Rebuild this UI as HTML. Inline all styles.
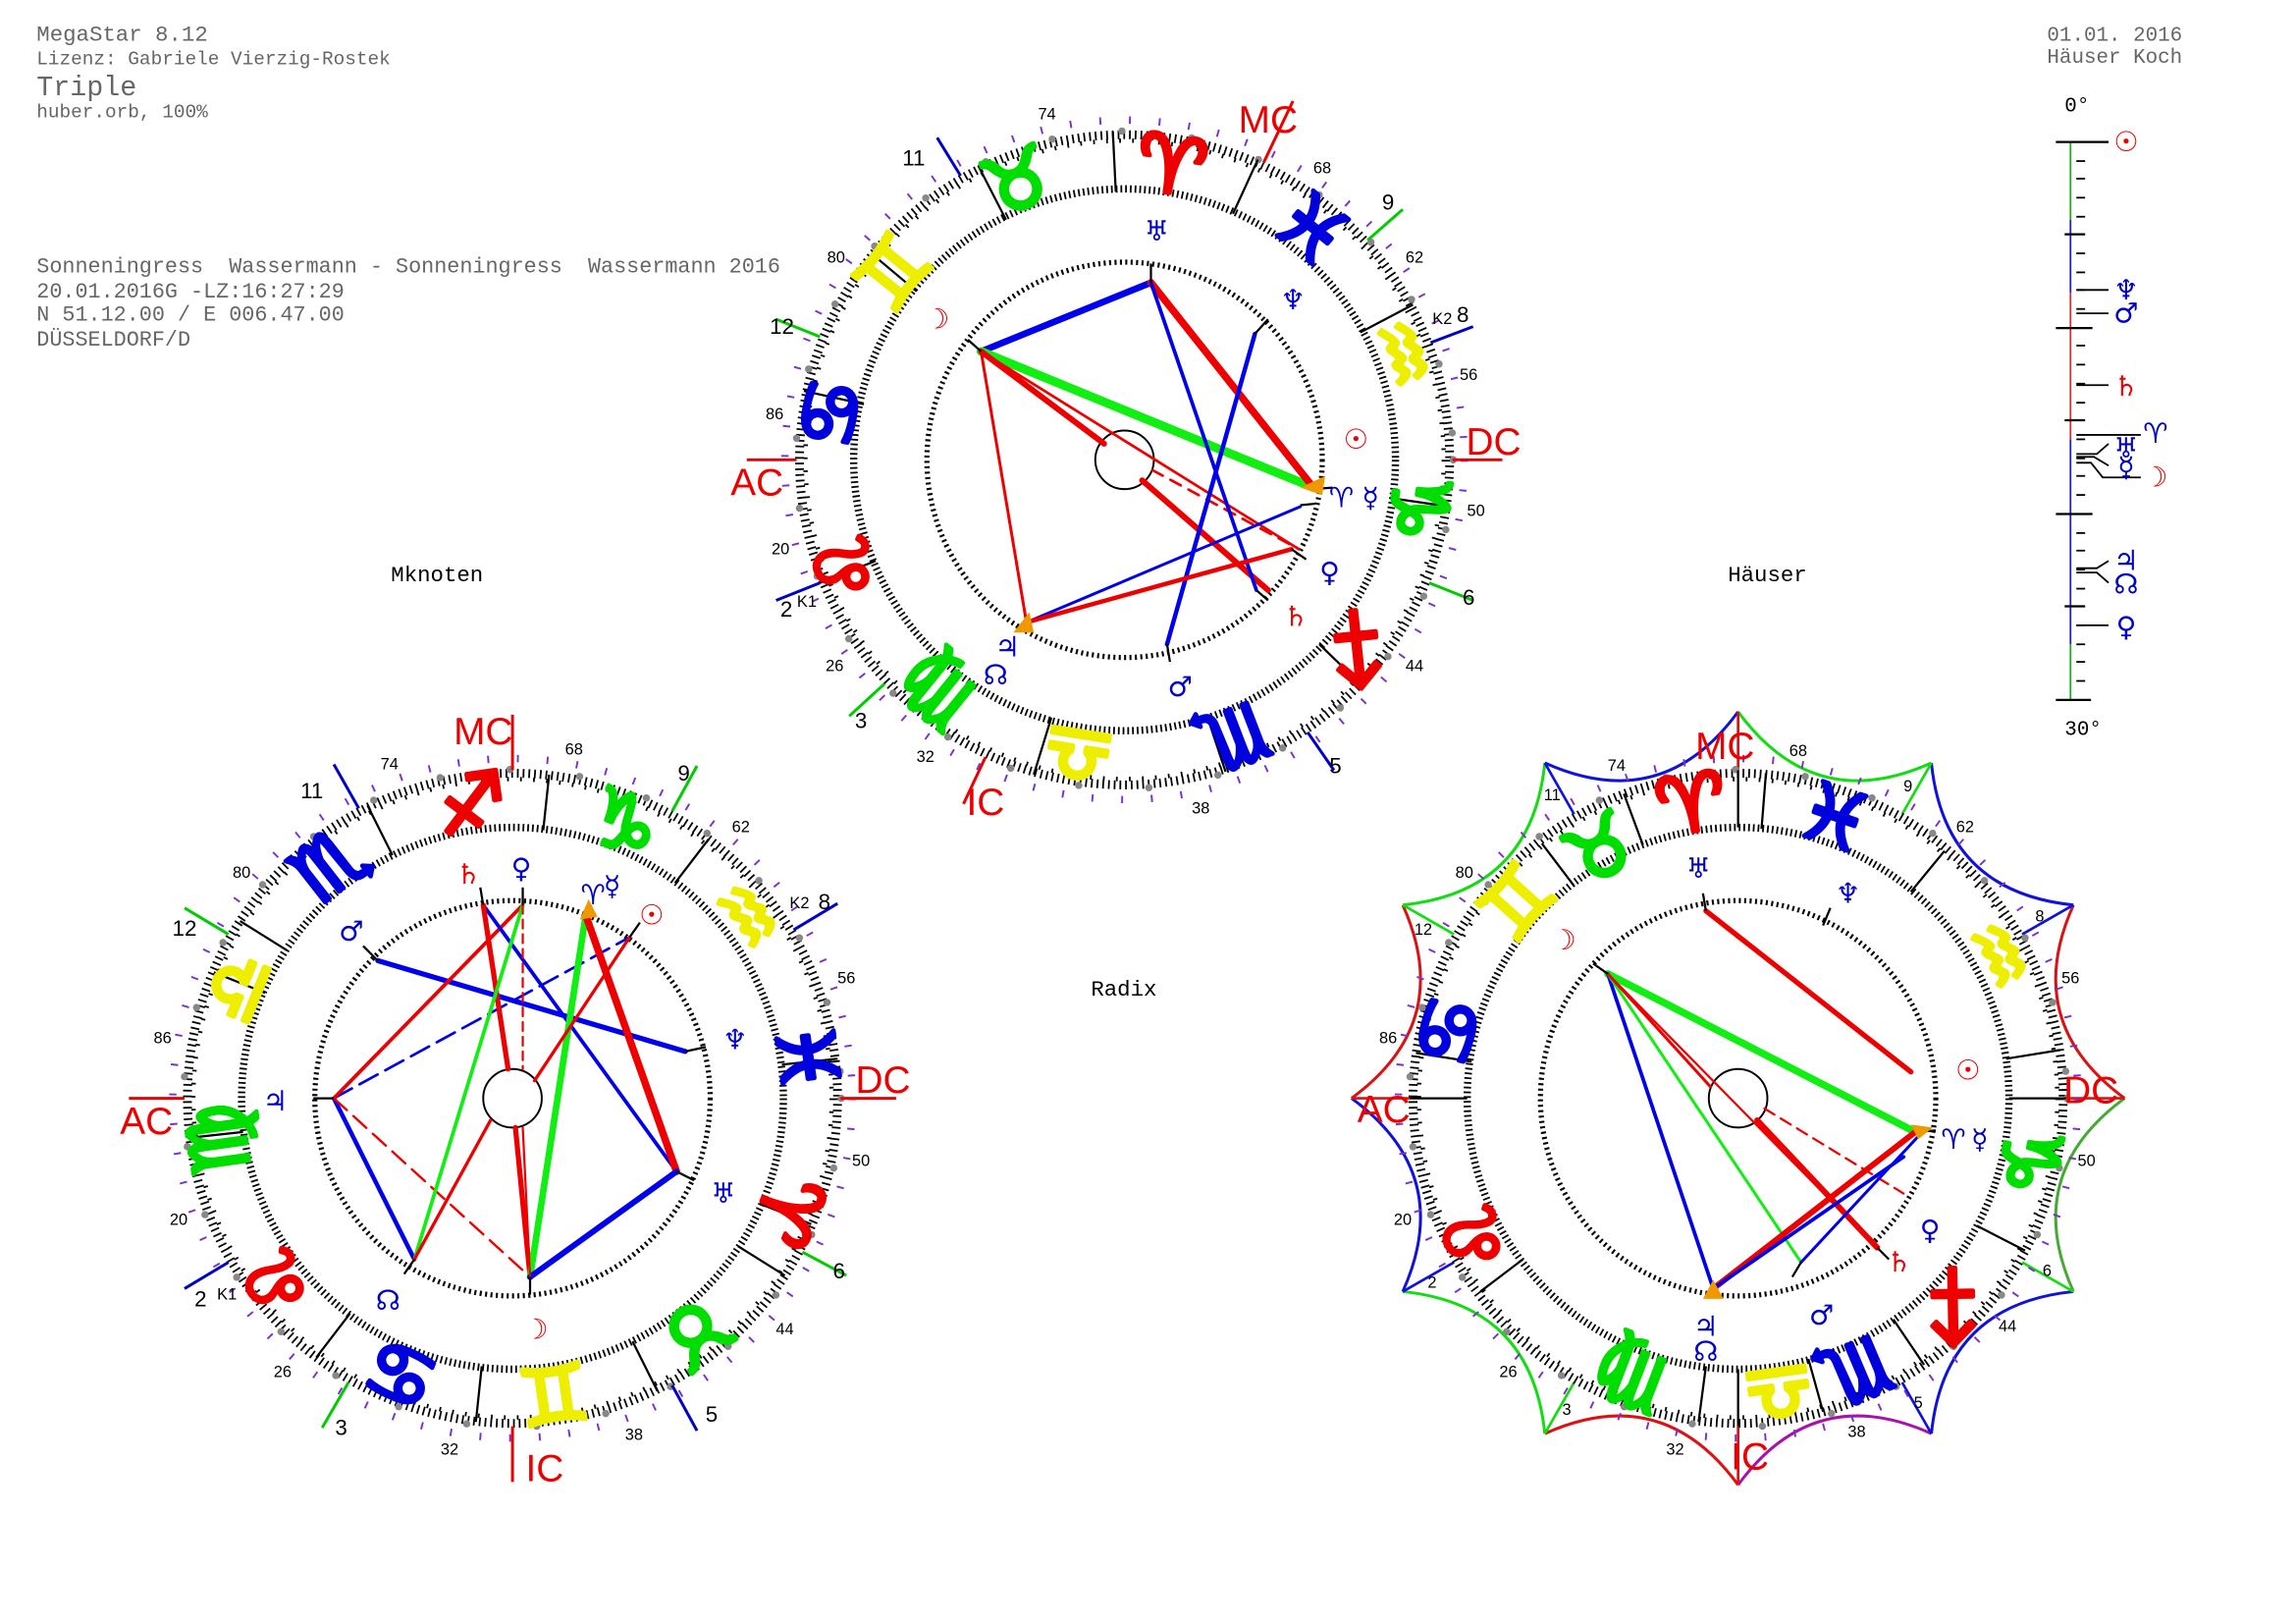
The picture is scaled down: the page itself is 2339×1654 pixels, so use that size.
<!DOCTYPE html>
<html><head><meta charset="utf-8"><style>
html,body{margin:0;padding:0;background:#fff}
svg{display:block}
.hd{font-family:"Liberation Mono",monospace;fill:#666;white-space:pre}
.z{font-family:"DejaVu Sans",sans-serif;font-size:54px;font-weight:bold;text-anchor:middle;dominant-baseline:central;stroke-width:3;stroke-linejoin:round}
.p{font-family:"DejaVu Sans",sans-serif;font-size:19px;text-anchor:middle;dominant-baseline:central}
.n{font-family:"Liberation Sans",sans-serif;font-size:11px;fill:#000;text-anchor:middle;dominant-baseline:central}
.h{font-family:"Liberation Sans",sans-serif;font-size:15px;fill:#000;text-anchor:middle;dominant-baseline:central}
.ax{font-family:"Liberation Sans",sans-serif;font-size:26px;fill:#e00;text-anchor:middle;dominant-baseline:central}
.lb{font-family:"Liberation Mono",monospace;font-size:15px;fill:#000}
</style></head><body>
<svg width="2339" height="1654" viewBox="0 0 1568 1109" preserveAspectRatio="none" xmlns="http://www.w3.org/2000/svg">
<defs>
<g id="ring">
<circle r="232" fill="none" stroke="#7a30d0" stroke-width="5" stroke-dasharray="1.3 19"/>
<circle r="222" fill="none" stroke="#000" stroke-width="6" stroke-dasharray="1.2 2.7"/>
<circle r="218" fill="none" stroke="#000" stroke-width="3" stroke-dasharray="1.2 7.7"/>
<circle r="224.5" fill="none" stroke="#888" stroke-width="5" stroke-dasharray="0 48" stroke-linecap="round"/>
<circle r="185" fill="none" stroke="#000" stroke-width="5" stroke-dasharray="1.2 2.03"/>
<circle r="135" fill="none" stroke="#000" stroke-width="3.5" stroke-dasharray="1.4 2.3"/>
<circle r="20" fill="#fff" stroke="#000" stroke-width="1.3"/>
</g>
</defs>

<!-- header -->
<text class="hd" x="25" y="28" font-size="15">MegaStar 8.12</text>
<text class="hd" x="25" y="44" font-size="13">Lizenz: Gabriele Vierzig-Rostek</text>
<text class="hd" x="25" y="65" font-size="19">Triple</text>
<text class="hd" x="25" y="80" font-size="13">huber.orb, 100%</text>
<text class="hd" x="1398" y="28" font-size="14">01.01. 2016</text>
<text class="hd" x="1398" y="43" font-size="14">Häuser Koch</text>
<text class="hd" x="25" y="186" font-size="14.6" xml:space="preserve">Sonneningress  Wassermann - Sonneningress  Wassermann 2016</text>
<text class="hd" x="25" y="203" font-size="14.6">20.01.2016G -LZ:16:27:29</text>
<text class="hd" x="25" y="219" font-size="14.6">N 51.12.00 / E 006.47.00</text>
<text class="hd" x="25" y="236" font-size="14.6">DÜSSELDORF/D</text>
<text class="lb" x="267" y="397">Mknoten</text>
<text class="lb" x="1180" y="397">Häuser</text>
<text class="lb" x="745" y="680">Radix</text>

<!-- ruler -->
<g stroke-width="1.2">
<line x1="1414" y1="97" x2="1414" y2="150" stroke="#2a2"/>
<line x1="1414" y1="150" x2="1414" y2="200" stroke="#22a"/>
<line x1="1414" y1="200" x2="1414" y2="300" stroke="#c33"/>
<line x1="1414" y1="300" x2="1414" y2="440" stroke="#22a"/>
<line x1="1414" y1="440" x2="1414" y2="478" stroke="#2a2"/>
</g>
<g stroke="#000" stroke-width="1.5">
<line x1="1404" y1="97" x2="1440" y2="97"/><line x1="1404" y1="478" x2="1428" y2="478"/>
<line x1="1410" y1="160" x2="1424" y2="160"/><line x1="1404" y1="224" x2="1429" y2="224"/>
<line x1="1410" y1="287" x2="1424" y2="287"/><line x1="1404" y1="351" x2="1429" y2="351"/>
<line x1="1410" y1="414" x2="1424" y2="414"/>
</g>
<g stroke="#000" stroke-width="1.2">
<line x1="1418" y1="110" x2="1424" y2="110"/><line x1="1418" y1="122" x2="1424" y2="122"/><line x1="1418" y1="135" x2="1424" y2="135"/><line x1="1418" y1="148" x2="1424" y2="148"/>
<line x1="1418" y1="173" x2="1424" y2="173"/><line x1="1418" y1="186" x2="1424" y2="186"/><line x1="1418" y1="198" x2="1424" y2="198"/><line x1="1418" y1="211" x2="1424" y2="211"/>
<line x1="1418" y1="236" x2="1424" y2="236"/><line x1="1418" y1="249" x2="1424" y2="249"/><line x1="1418" y1="262" x2="1424" y2="262"/><line x1="1418" y1="275" x2="1424" y2="275"/>
<line x1="1418" y1="300" x2="1424" y2="300"/><line x1="1418" y1="313" x2="1424" y2="313"/><line x1="1418" y1="325" x2="1424" y2="325"/><line x1="1418" y1="338" x2="1424" y2="338"/>
<line x1="1418" y1="364" x2="1424" y2="364"/><line x1="1418" y1="376" x2="1424" y2="376"/><line x1="1418" y1="389" x2="1424" y2="389"/><line x1="1418" y1="402" x2="1424" y2="402"/>
<line x1="1418" y1="427" x2="1424" y2="427"/><line x1="1418" y1="440" x2="1424" y2="440"/><line x1="1418" y1="452" x2="1424" y2="452"/><line x1="1418" y1="465" x2="1424" y2="465"/>
<line x1="1418" y1="198" x2="1440" y2="198"/><line x1="1418" y1="214" x2="1440" y2="214"/><line x1="1418" y1="263" x2="1440" y2="263"/>
<line x1="1418" y1="297" x2="1462" y2="297"/><line x1="1418" y1="427" x2="1440" y2="427"/>
<polyline points="1418,310 1432,310 1440,303" fill="none"/><polyline points="1418,312 1430,312 1440,318" fill="none"/>
<polyline points="1418,316 1428,316 1436,326 1462,326" fill="none"/>
<polyline points="1418,388 1432,388 1440,383" fill="none"/><polyline points="1418,391 1432,391 1440,398" fill="none"/>
</g>
<text class="hd" x="1410" y="76" font-size="14" style="fill:#000">0°</text>
<text class="hd" x="1410" y="502" font-size="14" style="fill:#000">30°</text>
<text class="p" x="1452" y="97" fill="#e00">☉</text>
<text class="p" x="1452" y="198" fill="#00c" font-size="14">♆</text>
<text class="p" x="1452" y="214" fill="#00c" font-size="14">♂</text>
<text class="p" x="1452" y="264" fill="#e00" font-size="13">♄</text>
<text class="p" x="1472" y="296" fill="#00c" font-size="15">♈</text>
<text class="p" x="1452" y="306" fill="#00c" font-size="12">♅</text>
<text class="p" x="1452" y="319" fill="#00c" font-size="12">☿</text>
<text class="p" x="1472" y="326" fill="#e00" font-size="15">☽</text>
<text class="p" x="1452" y="383" fill="#00c" font-size="13">♃</text>
<text class="p" x="1452" y="399" fill="#00c" font-size="13">☊</text>
<text class="p" x="1452" y="428" fill="#00c" font-size="14">♀</text>

<!-- ============ TOP CHART ============ -->
<g transform="translate(768,314)">
<use href="#ring"/>
<g stroke="#000" stroke-width="1.5">
<line x1="74" y1="-168" x2="91" y2="-205"/><line x1="-6" y1="-183" x2="-8" y2="-224"/>
<line x1="-81" y1="-164" x2="-100" y2="-201"/><line x1="-142" y1="-115" x2="-173" y2="-141"/>
<line x1="-178" y1="-38" x2="-219" y2="-47"/><line x1="-170" y1="69" x2="-208" y2="84"/>
<line x1="-120" y1="138" x2="-147" y2="169"/><line x1="-50" y1="176" x2="-62" y2="215"/>
<line x1="56" y1="174" x2="69" y2="213"/><line x1="133" y1="126" x2="162" y2="154"/>
<line x1="181" y1="26" x2="222" y2="32"/><line x1="161" y1="-87" x2="197" y2="-106"/>
</g>
<g stroke-width="2">
<line x1="-112" y1="-194" x2="-128" y2="-220" stroke="#00c"/>
<line x1="95" y1="-203" x2="115" y2="-245" stroke="#e00"/>
<line x1="166" y1="-150" x2="190" y2="-171" stroke="#0c0"/>
<line x1="209" y1="-80" x2="238" y2="-91" stroke="#00c"/>
<line x1="224" y1="0" x2="258" y2="0" stroke="#e00"/>
<line x1="208" y1="84" x2="238" y2="96" stroke="#0c0"/>
<line x1="125" y1="186" x2="143" y2="212" stroke="#00c"/>
<line x1="-95" y1="203" x2="-110" y2="235" stroke="#e00"/>
<line x1="-164" y1="153" x2="-188" y2="175" stroke="#0c0"/>
<line x1="-208" y1="84" x2="-238" y2="96" stroke="#00c"/>
<line x1="-224" y1="0" x2="-258" y2="0" stroke="#e00"/>
<line x1="-208" y1="-84" x2="-238" y2="-96" stroke="#0c0"/>
</g>
</g>
<g>
<text class="z" fill="#e00" stroke="#e00" transform="translate(800,113) rotate(9)">♈</text>
<text class="z" fill="#0d0" stroke="#0d0" transform="translate(695,124) rotate(-21)">♉</text>
<text class="z" fill="#ee0" stroke="#ee0" transform="translate(610,186) rotate(-51)">♊</text>
<text class="z" fill="#00d" stroke="#00d" transform="translate(567,282) rotate(-81)">♋</text>
<text class="z" fill="#e00" stroke="#e00" transform="translate(578,387) rotate(-111)">♌</text>
<text class="z" fill="#0d0" stroke="#0d0" transform="translate(640,472) rotate(-141)">♍</text>
<text class="z" fill="#ee0" stroke="#ee0" transform="translate(736,515) rotate(-171)">♎</text>
<text class="z" fill="#00d" stroke="#00d" transform="translate(841,504) rotate(-201)">♏</text>
<text class="z" fill="#e00" stroke="#e00" transform="translate(926,442) rotate(-231)">♐</text>
<text class="z" fill="#0d0" stroke="#0d0" transform="translate(969,346) rotate(-261)">♑</text>
<text class="z" fill="#ee0" stroke="#ee0" transform="translate(958,241) rotate(69)">♒</text>
<text class="z" fill="#00d" stroke="#00d" transform="translate(896,156) rotate(39)">♓</text>
</g>
<!-- aspects top -->
<g stroke-linecap="round">
<line x1="670" y1="240" x2="786" y2="193" stroke="#00e" stroke-width="4.5"/>
<line x1="670" y1="240" x2="897" y2="333" stroke="#1e1" stroke-width="6"/>
<line x1="670" y1="240" x2="887" y2="375" stroke="#e00" stroke-width="1.8"/>
<line x1="670" y1="240" x2="754" y2="303" stroke="#e00" stroke-width="4"/>
<line x1="780" y1="328" x2="866" y2="403" stroke="#e00" stroke-width="4"/>
<line x1="787" y1="321" x2="887" y2="375" stroke="#e00" stroke-width="1.8" stroke-dasharray="8 6"/>
<line x1="670" y1="240" x2="701" y2="425" stroke="#e00" stroke-width="2"/>
<line x1="786" y1="193" x2="897" y2="333" stroke="#e00" stroke-width="5"/>
<line x1="786" y1="193" x2="858" y2="403" stroke="#00e" stroke-width="2.5"/>
<line x1="857" y1="228" x2="797" y2="440" stroke="#00e" stroke-width="3"/>
<line x1="701" y1="425" x2="888" y2="346" stroke="#00e" stroke-width="2"/>
<line x1="701" y1="425" x2="882" y2="375" stroke="#e00" stroke-width="3"/>
</g>
<g stroke="#000" stroke-width="1.5" fill="none">
<polyline points="661,232 670,240"/><polyline points="786,180 786,193"/>
<polyline points="866,218 857,228"/><polyline points="897,334 910,333"/><polyline points="888,345 898,344"/>
<polyline points="882,375 892,382"/><polyline points="858,403 866,410"/><polyline points="797,440 799,452"/>
</g>
<polygon points="888,333 905,325 903,338" fill="#e90"/><polygon points="703,418 692,432 706,432" fill="#e90"/>
<g>
<text class="p" x="790" y="158" fill="#00c">♅</text>
<text class="p" x="883" y="205" fill="#00c">♆</text>
<text class="p" x="926" y="300" fill="#e00" font-size="24">☉</text>
<text class="p" x="916" y="340" fill="#00c">♈</text>
<text class="p" x="936" y="340" fill="#00c">☿</text>
<text class="p" x="908" y="391" fill="#00c">♀</text>
<text class="p" x="885" y="421" fill="#e00">♄</text>
<text class="p" x="806" y="469" fill="#00c">♂</text>
<text class="p" x="688" y="442" fill="#00c" font-size="16">♃</text>
<text class="p" x="680" y="461" fill="#00c" font-size="16">☊</text>
<text class="p" x="640" y="218" fill="#e00" font-size="24">☽</text>
</g>
<g>
<text class="ax" x="866" y="82">MC</text><text class="ax" x="1020" y="302">DC</text>
<text class="ax" x="517" y="330">AC</text><text class="ax" x="673" y="548">IC</text>
<text class="h" x="624" y="108">11</text><text class="h" x="948" y="138">9</text><text class="h" x="999" y="215">8</text>
<text class="h" x="534" y="223">12</text><text class="h" x="1003" y="408">6</text><text class="h" x="912" y="523">5</text>
<text class="h" x="588" y="492">3</text><text class="h" x="537" y="416">2</text>
<text class="n" x="715" y="78">74</text><text class="n" x="903" y="115">68</text><text class="n" x="966" y="176">62</text>
<text class="n" x="1003" y="256">56</text><text class="n" x="1008" y="349">50</text><text class="n" x="966" y="455">44</text>
<text class="n" x="820" y="552">38</text><text class="n" x="632" y="517">32</text><text class="n" x="570" y="455">26</text>
<text class="n" x="533" y="375">20</text><text class="n" x="529" y="283">86</text><text class="n" x="571" y="176">80</text>
<text class="n" x="985" y="218">K2</text><text class="n" x="551" y="411">K1</text>
</g>

<!-- ============ BOTTOM LEFT ============ -->
<g transform="translate(350,750)">
<use href="#ring"/>
<g stroke="#000" stroke-width="1.5">
<line x1="184" y1="-23" x2="222" y2="-27"/><line x1="111" y1="-147" x2="134" y2="-177"/>
<line x1="21" y1="-183" x2="25" y2="-221"/><line x1="-82" y1="-166" x2="-99" y2="-200"/>
<line x1="-154" y1="-101" x2="-186" y2="-121"/><line x1="-184" y1="23" x2="-221" y2="27"/>
<line x1="-111" y1="147" x2="-134" y2="177"/><line x1="-21" y1="183" x2="-25" y2="221"/>
<line x1="82" y1="166" x2="99" y2="200"/><line x1="154" y1="101" x2="186" y2="121"/>
<line x1="-169" y1="-72" x2="-204" y2="-86"/><line x1="169" y1="72" x2="204" y2="86"/>
</g>
<g stroke-width="2">
<line x1="0" y1="-224" x2="0" y2="-262" stroke="#e00"/>
<line x1="-105" y1="-198" x2="-122" y2="-228" stroke="#00c"/>
<line x1="109" y1="-196" x2="126" y2="-227" stroke="#0c0"/>
<line x1="192" y1="-115" x2="222" y2="-133" stroke="#00c"/>
<line x1="224" y1="0" x2="262" y2="0" stroke="#e00"/>
<line x1="198" y1="105" x2="228" y2="121" stroke="#0c0"/>
<line x1="109" y1="196" x2="126" y2="227" stroke="#00c"/>
<line x1="0" y1="224" x2="0" y2="262" stroke="#e00"/>
<line x1="-112" y1="194" x2="-130" y2="225" stroke="#0c0"/>
<line x1="-194" y1="112" x2="-224" y2="130" stroke="#00c"/>
<line x1="-224" y1="0" x2="-262" y2="0" stroke="#e00"/>
<line x1="-194" y1="-112" x2="-224" y2="-130" stroke="#0c0"/>
</g>
</g>
<g>
<text class="z" fill="#e00" stroke="#e00" transform="translate(538,826) rotate(112)">♈</text>
<text class="z" fill="#0d0" stroke="#0d0" transform="translate(475,910) rotate(142)">♉</text>
<text class="z" fill="#ee0" stroke="#ee0" transform="translate(378,951) rotate(172)">♊</text>
<text class="z" fill="#00d" stroke="#00d" transform="translate(274,938) rotate(-158)">♋</text>
<text class="z" fill="#e00" stroke="#e00" transform="translate(190,875) rotate(-128)">♌</text>
<text class="z" fill="#0d0" stroke="#0d0" transform="translate(149,778) rotate(-98)">♍</text>
<text class="z" fill="#ee0" stroke="#ee0" transform="translate(162,674) rotate(-68)">♎</text>
<text class="z" fill="#00d" stroke="#00d" transform="translate(225,590) rotate(-38)">♏</text>
<text class="z" fill="#e00" stroke="#e00" transform="translate(322,549) rotate(-8)">♐</text>
<text class="z" fill="#0d0" stroke="#0d0" transform="translate(426,562) rotate(22)">♑</text>
<text class="z" fill="#ee0" stroke="#ee0" transform="translate(510,625) rotate(52)">♒</text>
<text class="z" fill="#00d" stroke="#00d" transform="translate(551,722) rotate(82)">♓</text>
</g>
<g stroke-linecap="round">
<line x1="258" y1="656" x2="468" y2="718" stroke="#00e" stroke-width="3.5"/>
<line x1="228" y1="750" x2="430" y2="640" stroke="#00e" stroke-width="1.8" stroke-dasharray="14 6"/>
<line x1="228" y1="750" x2="283" y2="860" stroke="#00e" stroke-width="3"/>
<line x1="228" y1="750" x2="362" y2="872" stroke="#e00" stroke-width="1.6" stroke-dasharray="12 6"/>
<line x1="228" y1="750" x2="357" y2="618" stroke="#e00" stroke-width="2.5"/>
<line x1="330" y1="618" x2="462" y2="800" stroke="#00e" stroke-width="2.5"/>
<line x1="330" y1="618" x2="347" y2="730" stroke="#e00" stroke-width="3.5"/>
<line x1="352" y1="770" x2="362" y2="872" stroke="#e00" stroke-width="3.5"/>
<line x1="357" y1="618" x2="283" y2="860" stroke="#1e1" stroke-width="2.5"/>
<line x1="400" y1="625" x2="362" y2="872" stroke="#1e1" stroke-width="4.5"/>
<line x1="400" y1="625" x2="462" y2="800" stroke="#e00" stroke-width="5"/>
<line x1="430" y1="640" x2="365" y2="738" stroke="#e00" stroke-width="2.2"/>
<line x1="335" y1="765" x2="283" y2="860" stroke="#e00" stroke-width="2.2"/>
<line x1="462" y1="800" x2="362" y2="872" stroke="#00e" stroke-width="4"/>
<line x1="357" y1="618" x2="357" y2="730" stroke="#e00" stroke-width="1.5" stroke-dasharray="6 4"/>
<line x1="357" y1="770" x2="362" y2="872" stroke="#e00" stroke-width="1.5"/>
</g>
<g stroke="#000" stroke-width="1.5"><line x1="258" y1="656" x2="248" y2="646"/><line x1="228" y1="750" x2="214" y2="750"/>
<line x1="283" y1="860" x2="276" y2="870"/><line x1="362" y1="872" x2="362" y2="884"/><line x1="462" y1="800" x2="474" y2="806"/>
<line x1="468" y1="718" x2="482" y2="715"/><line x1="430" y1="640" x2="437" y2="630"/><line x1="330" y1="618" x2="328" y2="606"/><line x1="357" y1="618" x2="357" y2="606"/></g>
<polygon points="396,628 402,614 408,626" fill="#e90"/>
<g>
<text class="p" x="320" y="597" fill="#e00">♄</text>
<text class="p" x="356" y="593" fill="#00c">♀</text>
<text class="p" x="405" y="611" fill="#00c">♈</text>
<text class="p" x="418" y="605" fill="#00c">☿</text>
<text class="p" x="445" y="625" fill="#e00" font-size="24">☉</text>
<text class="p" x="240" y="636" fill="#00c">♂</text>
<text class="p" x="188" y="752" fill="#00c">♃</text>
<text class="p" x="502" y="710" fill="#00c">♆</text>
<text class="p" x="494" y="815" fill="#00c">♅</text>
<text class="p" x="265" y="888" fill="#00c">☊</text>
<text class="p" x="366" y="908" fill="#e00" font-size="24">☽</text>
</g>
<g>
<text class="ax" x="330" y="500">MC</text><text class="ax" x="100" y="766">AC</text>
<text class="ax" x="603" y="738">DC</text><text class="ax" x="372" y="1003">IC</text>
<text class="h" x="213" y="540">11</text><text class="h" x="467" y="528">9</text><text class="h" x="563" y="616">8</text>
<text class="h" x="126" y="634">12</text><text class="h" x="573" y="868">6</text><text class="h" x="486" y="966">5</text>
<text class="h" x="233" y="975">3</text><text class="h" x="137" y="887">2</text>
<text class="n" x="266" y="522">74</text><text class="n" x="392" y="512">68</text><text class="n" x="506" y="565">62</text>
<text class="n" x="578" y="668">56</text><text class="n" x="588" y="793">50</text><text class="n" x="536" y="908">44</text>
<text class="n" x="433" y="980">38</text><text class="n" x="307" y="990">32</text><text class="n" x="193" y="937">26</text>
<text class="n" x="122" y="833">20</text><text class="n" x="111" y="709">86</text><text class="n" x="165" y="596">80</text>
<text class="n" x="546" y="617">K2</text><text class="n" x="155" y="884">K1</text>
</g>

<!-- ============ BOTTOM RIGHT ============ -->
<g transform="translate(1187,750)">
<g fill="none" stroke-width="2">
<path d="M0,-264 Q52,-193 132,-229" stroke="#1d1"/>
<path d="M132,-229 Q141,-141 229,-132" stroke="#11d"/>
<path d="M229,-132 Q193,-52 264,0" stroke="#d11"/>
<path d="M264,0 Q193,52 229,132" stroke="#4a3"/>
<path d="M229,132 Q141,141 132,229" stroke="#11d"/>
<path d="M132,229 Q52,193 0,264" stroke="#a1a"/>
<path d="M0,264 Q-52,193 -132,229" stroke="#d11"/>
<path d="M-132,229 Q-141,141 -229,132" stroke="#1d1"/>
<path d="M-229,132 Q-193,52 -264,0" stroke="#11d"/>
<path d="M-264,0 Q-193,-52 -229,-132" stroke="#d11"/>
<path d="M-229,-132 Q-141,-141 -132,-229" stroke="#1d1"/>
<path d="M-132,-229 Q-52,-193 0,-264" stroke="#11d"/>
</g>
<g stroke-width="1.8">
<line x1="0" y1="-224" x2="0" y2="-264" stroke="#d11"/>
<line x1="112" y1="-194" x2="132" y2="-229" stroke="#1d1"/>
<line x1="194" y1="-112" x2="229" y2="-132" stroke="#11d"/>
<line x1="224" y1="0" x2="264" y2="0" stroke="#d11"/>
<line x1="194" y1="112" x2="229" y2="132" stroke="#1d1"/>
<line x1="112" y1="194" x2="132" y2="229" stroke="#11d"/>
<line x1="0" y1="224" x2="0" y2="264" stroke="#d11"/>
<line x1="-112" y1="194" x2="-132" y2="229" stroke="#1d1"/>
<line x1="-194" y1="112" x2="-229" y2="132" stroke="#11d"/>
<line x1="-224" y1="0" x2="-264" y2="0" stroke="#d11"/>
<line x1="-194" y1="-112" x2="-229" y2="-132" stroke="#1d1"/>
<line x1="-112" y1="-194" x2="-132" y2="-229" stroke="#11d"/>
</g>
<use href="#ring"/>
<g stroke="#000" stroke-width="1.5">
<line x1="16" y1="-184" x2="19" y2="-222"/><line x1="-65" y1="-173" x2="-78" y2="-208"/>
<line x1="-112" y1="-145" x2="-134" y2="-174"/><line x1="-182" y1="-25" x2="-220" y2="-31"/>
<line x1="-147" y1="110" x2="-176" y2="132"/><line x1="-22" y1="183" x2="-27" y2="221"/>
<line x1="48" y1="178" x2="58" y2="214"/><line x1="106" y1="151" x2="127" y2="182"/>
<line x1="163" y1="87" x2="196" y2="104"/><line x1="183" y1="-27" x2="220" y2="-33"/>
<line x1="118" y1="-141" x2="141" y2="-169"/><line x1="0" y1="185" x2="0" y2="224"/><line x1="0" y1="-185" x2="0" y2="-224"/>
<line x1="-185" y1="0" x2="-224" y2="0"/><line x1="185" y1="0" x2="224" y2="0"/>
</g>
</g>
<g>
<text class="z" fill="#e00" stroke="#e00" font-size="42" transform="translate(1155,549) rotate(-9)">♈</text>
<text class="z" fill="#0d0" stroke="#0d0" font-size="42" transform="translate(1093,580) rotate(-30)">♉</text>
<text class="z" fill="#ee0" stroke="#ee0" transform="translate(1036,616) rotate(-48)">♊</text>
<text class="z" fill="#00d" stroke="#00d" transform="translate(989,704) rotate(-77)">♋</text>
<text class="z" fill="#e00" stroke="#e00" transform="translate(1008,845) rotate(-118)">♌</text>
<text class="z" fill="#0d0" stroke="#0d0" transform="translate(1114,940) rotate(-159)">♍</text>
<text class="z" fill="#ee0" stroke="#ee0" font-size="40" transform="translate(1215,951) rotate(-188)">♎</text>
<text class="z" fill="#00d" stroke="#00d" font-size="40" transform="translate(1266,937) rotate(-203)">♏</text>
<text class="z" fill="#e00" stroke="#e00" transform="translate(1333,891) rotate(-226)">♐</text>
<text class="z" fill="#0d0" stroke="#0d0" transform="translate(1386,792) rotate(-258)">♑</text>
<text class="z" fill="#ee0" stroke="#ee0" transform="translate(1365,652) rotate(61)">♒</text>
<text class="z" fill="#00d" stroke="#00d" transform="translate(1253,558) rotate(19)">♓</text>
</g>
<g stroke-linecap="round">
<line x1="1098" y1="665" x2="1308" y2="773" stroke="#1e1" stroke-width="5"/>
<line x1="1098" y1="665" x2="1170" y2="880" stroke="#00e" stroke-width="2.5"/>
<line x1="1098" y1="665" x2="1230" y2="862" stroke="#1e1" stroke-width="2"/>
<line x1="1098" y1="665" x2="1168" y2="742" stroke="#e00" stroke-width="2"/>
<line x1="1098" y1="665" x2="1282" y2="852" stroke="#e00" stroke-width="1.5"/>
<line x1="1200" y1="765" x2="1282" y2="852" stroke="#e00" stroke-width="4"/>
<line x1="1205" y1="757" x2="1300" y2="815" stroke="#e00" stroke-width="1.5" stroke-dasharray="8 5"/>
<line x1="1165" y1="622" x2="1305" y2="732" stroke="#e00" stroke-width="3.5"/>
<line x1="1170" y1="880" x2="1308" y2="773" stroke="#e00" stroke-width="4"/>
<line x1="1170" y1="880" x2="1300" y2="790" stroke="#00e" stroke-width="2.5"/>
<line x1="1230" y1="862" x2="1310" y2="776" stroke="#00e" stroke-width="2"/>
</g>
<g stroke="#000" stroke-width="1.5"><line x1="1165" y1="622" x2="1163" y2="610"/><line x1="1245" y1="632" x2="1250" y2="620"/>
<line x1="1098" y1="665" x2="1088" y2="658"/><line x1="1308" y1="773" x2="1322" y2="772"/><line x1="1282" y1="852" x2="1290" y2="860"/>
<line x1="1230" y1="862" x2="1224" y2="872"/></g>
<polygon points="1163,887 1170,874 1177,887" fill="#e90"/><polygon points="1305,768 1320,770 1310,778" fill="#e90"/>
<g>
<text class="p" x="1160" y="593" fill="#00c">♅</text>
<text class="p" x="1262" y="610" fill="#00c">♆</text>
<text class="p" x="1068" y="642" fill="#e00" font-size="24">☽</text>
<text class="p" x="1344" y="731" fill="#e00" font-size="24">☉</text>
<text class="p" x="1334" y="778" fill="#00c">♈</text>
<text class="p" x="1352" y="778" fill="#00c">☿</text>
<text class="p" x="1318" y="840" fill="#00c">♀</text>
<text class="p" x="1297" y="862" fill="#e00">♄</text>
<text class="p" x="1244" y="898" fill="#00c">♂</text>
<text class="p" x="1165" y="906" fill="#00c" font-size="16">♃</text>
<text class="p" x="1165" y="923" fill="#00c" font-size="16">☊</text>
</g>
<g>
<text class="ax" x="1178" y="510" font-size="17">MC</text><text class="ax" x="945" y="758" font-size="17">AC</text>
<text class="ax" x="1428" y="745" font-size="17">DC</text><text class="ax" x="1195" y="995" font-size="17">IC</text>
<text class="n" x="972" y="635" font-size="9">12</text><text class="n" x="1060" y="543" font-size="9">11</text>
<text class="n" x="1303" y="537" font-size="9">9</text><text class="n" x="1393" y="626" font-size="9">8</text>
<text class="n" x="1398" y="868" font-size="9">6</text><text class="n" x="1310" y="958" font-size="9">5</text>
<text class="n" x="1070" y="963" font-size="9">3</text><text class="n" x="978" y="876" font-size="9">2</text>
<text class="n" x="1104" y="523">74</text><text class="n" x="1228" y="513">68</text><text class="n" x="1342" y="565">62</text>
<text class="n" x="1414" y="668">56</text><text class="n" x="1425" y="793">50</text><text class="n" x="1371" y="906">44</text>
<text class="n" x="1268" y="978">38</text><text class="n" x="1144" y="990">32</text><text class="n" x="1030" y="937">26</text>
<text class="n" x="958" y="833">20</text><text class="n" x="948" y="709">86</text><text class="n" x="1000" y="596">80</text>
</g>
</svg>
</body></html>
